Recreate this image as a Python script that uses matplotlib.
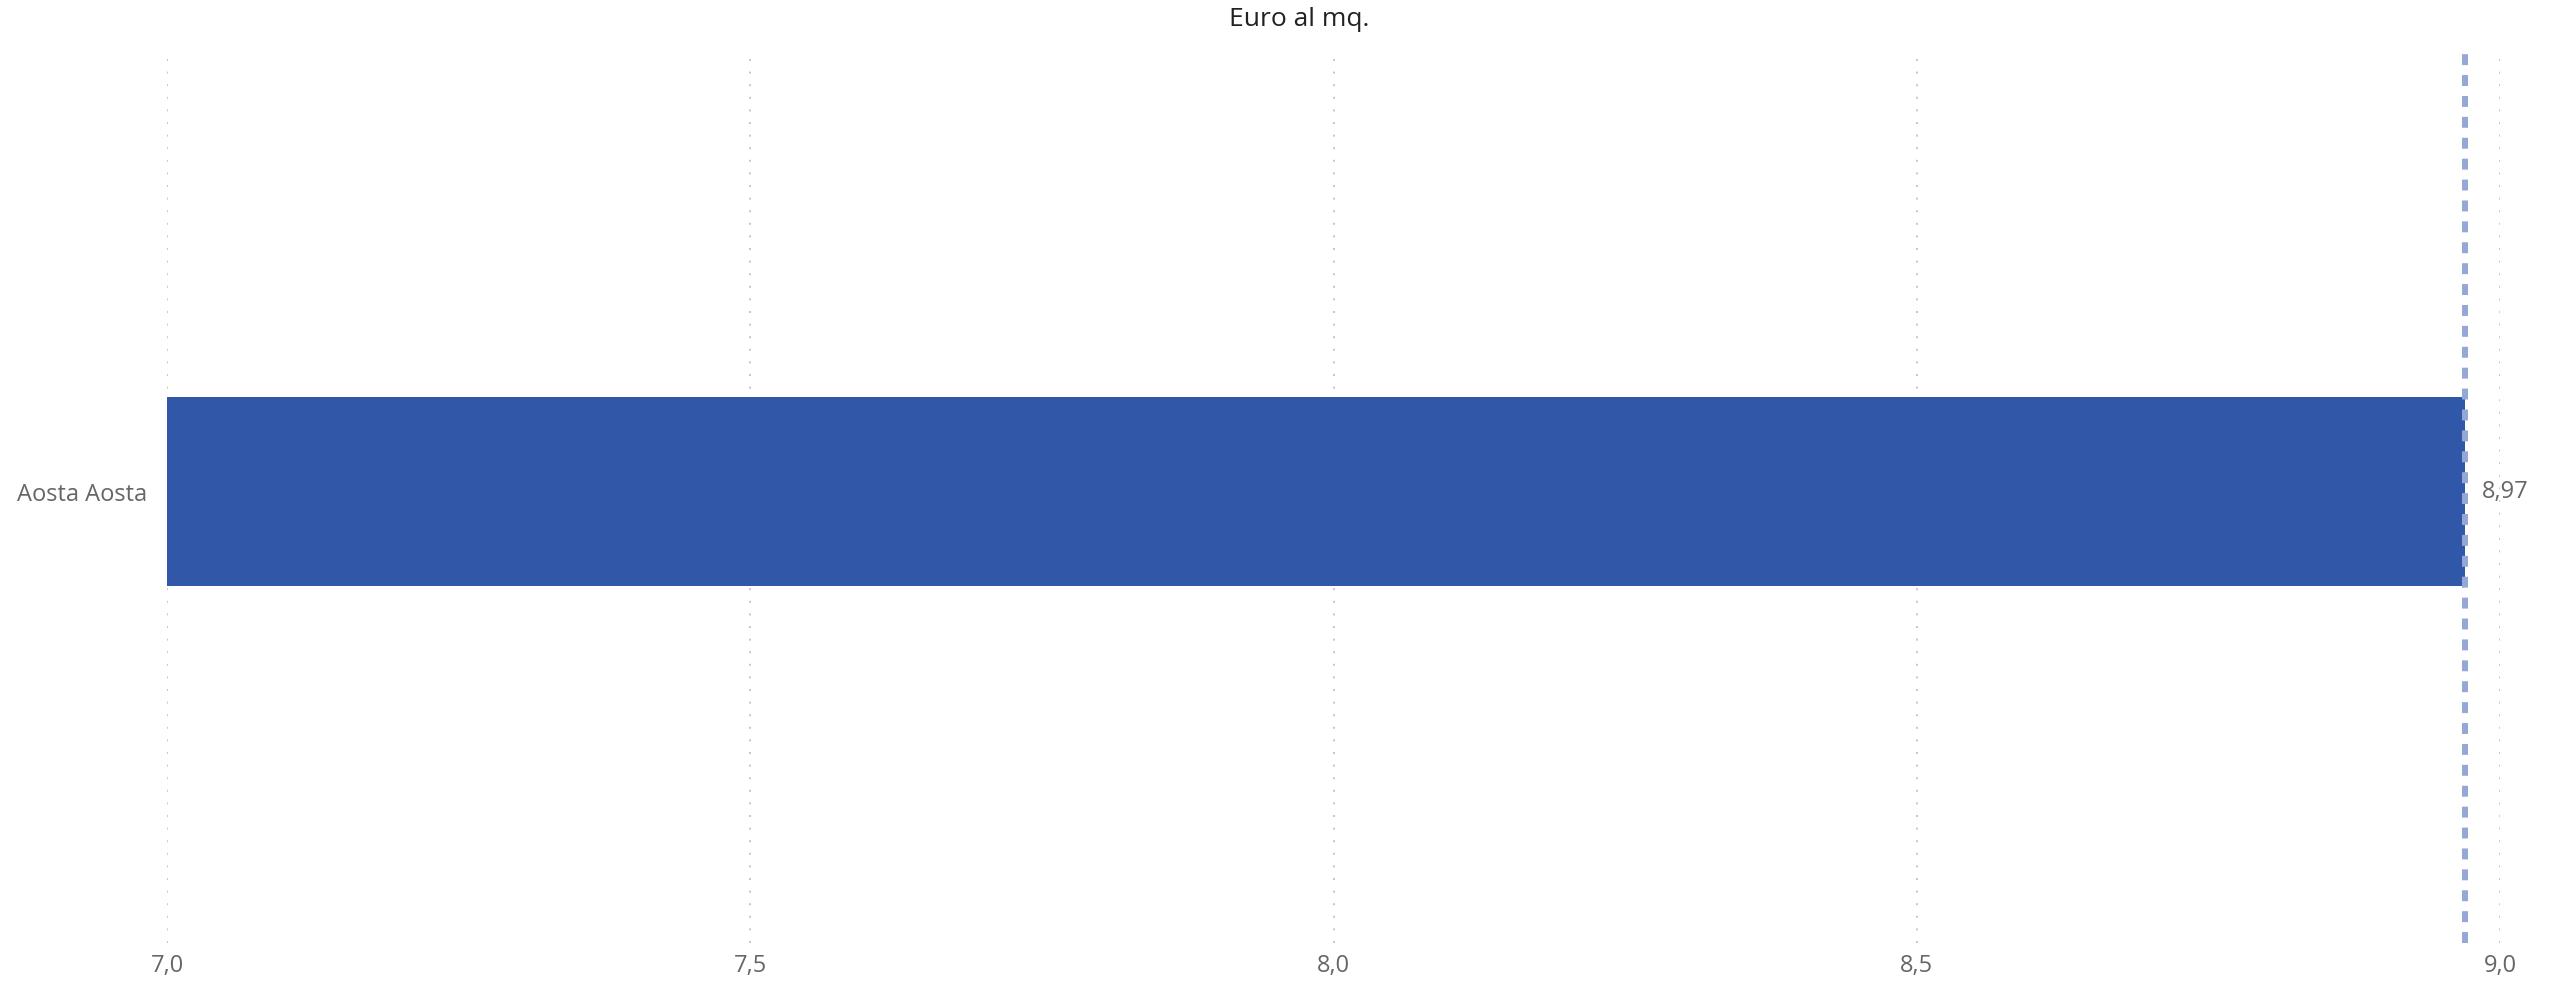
import matplotlib.pyplot as plt
import matplotlib.ticker as mticker

# data
categories = ['Aosta Aosta']
values = [8.97]
average = 8.97
x_ticks = [7.0, 7.5, 8.0, 8.5, 9.0]
title = 'Euro al mq.'

plt.rcParams['font.family'] = ['Open Sans', 'DejaVu Sans']

W, H = 2560, 985
fig = plt.figure(figsize=(W / 100, H / 100), dpi=100)
ax = fig.add_axes([167 / W, 1 - 943 / H, (2500 - 167) / W, (943 - 49) / H])

bar_color = '#3158a8'
ax.barh(range(len(categories)), values, height=0.8, left=0, color=bar_color, zorder=3)

# average line
ax.axvline(average, color='#95a8d5', lw=4.3, ls=(0, (1.83, 1.67)),
           dash_capstyle='butt', zorder=4)

for i, v in enumerate(values):
    ax.annotate(('%.2f' % v).replace('.', ','), xy=(v, i), xytext=(12, 0),
                textcoords='offset points', va='center', ha='left',
                fontsize=17, color='#666666', annotation_clip=False)

ax.set_xlim(7.0, 9.0)
ax.set_ylim(-1.911, 1.873)
ax.set_xticks(x_ticks)
ax.xaxis.set_major_formatter(mticker.FuncFormatter(lambda x, p: ('%.1f' % x).replace('.', ',')))
ax.set_yticks(range(len(categories)))
ax.set_yticklabels(categories)

ax.grid(axis='x', color='#c8c8c8', lw=1.44, ls=(0, (1, 5.3)), zorder=0)
ax.grid(axis='y', visible=False)
ax.set_axisbelow(True)
for s in ax.spines.values():
    s.set_visible(False)
ax.tick_params(axis='both', length=0, labelsize=17, labelcolor='#666666')
ax.tick_params(axis='x', pad=8)
ax.tick_params(axis='y', pad=14)

fig.text(1299 / W, 1 - 20 / H, title, ha='center', va='center',
         fontsize=19, color='#222222')

fig.savefig('out.png', dpi=100, facecolor='white')
